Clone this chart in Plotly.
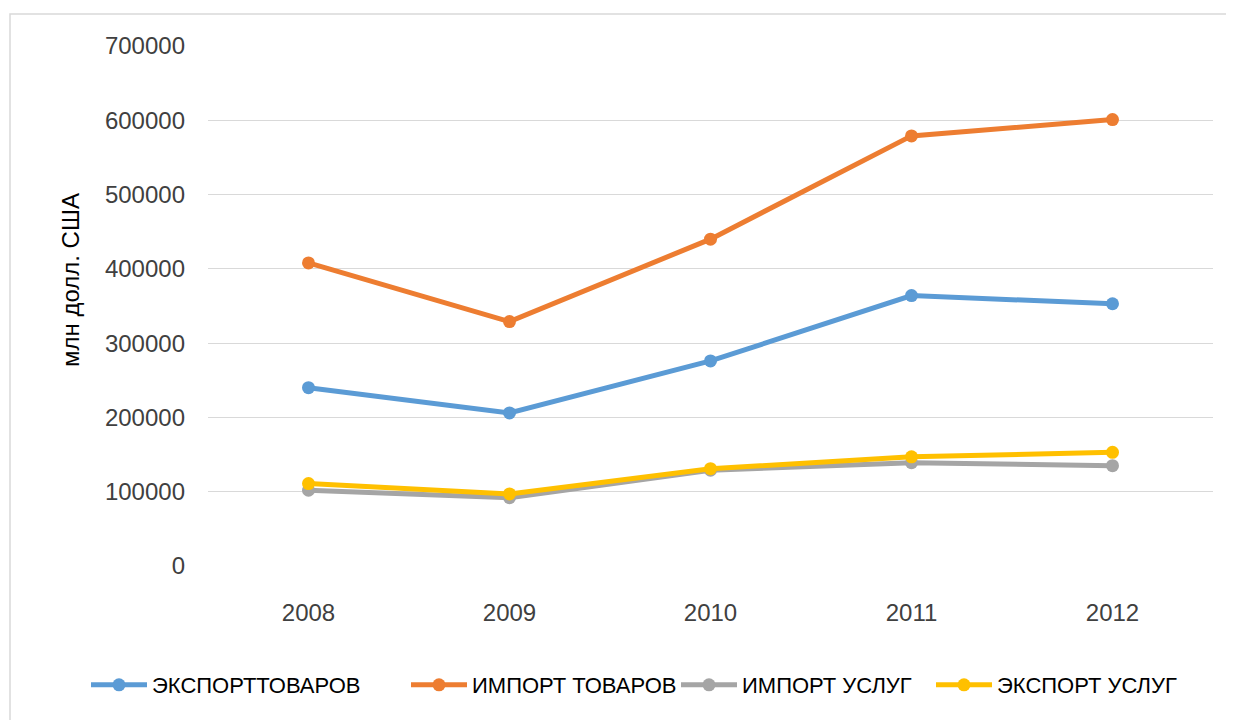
import plotly.graph_objects as go

years = ["2008", "2009", "2010", "2011", "2012"]
export_goods = [240000, 206000, 276000, 364000, 353000]
import_goods = [408000, 329000, 440000, 579000, 601000]
import_services = [102000, 92000, 129000, 139000, 135000]
export_services = [111000, 97000, 131000, 147000, 153000]

series = [
    ("ЭКСПОРТТОВАРОВ", export_goods, "#5b9bd5"),
    ("ИМПОРТ ТОВАРОВ", import_goods, "#ed7d31"),
    ("ИМПОРТ УСЛУГ", import_services, "#a5a5a5"),
    ("ЭКСПОРТ УСЛУГ", export_services, "#ffc000"),
]
legend_px = [86, 406, 676, 931]  # screen x of each legend entry
y_title = "млн долл. США"

# the page body has an 8px margin; compensate so the screen layout matches
OFF = 8
W, H = 1234 - OFF, 720 - OFF
L, R, T, B = 208 - OFF, 21, 46 - OFF, 154
pw, ph = W - L - R, H - T - B


def fx(px):
    return (px - OFF - L) / pw


def fy(py):
    return (T + ph - (py - OFF)) / ph


fig = go.Figure()
legend_names = ["legend", "legend2", "legend3", "legend4"]
for (name, vals, color), lg in zip(series, legend_names):
    fig.add_trace(go.Scatter(
        x=years, y=vals, name=name, mode="lines+markers",
        line=dict(color=color, width=5),
        marker=dict(color=color, size=13, symbol="circle"),
        legend=lg,
    ))

layout_legends = {}
for lg, px in zip(legend_names, legend_px):
    layout_legends[lg] = dict(
        orientation="h", x=fx(px), xanchor="left", y=fy(685), yanchor="middle",
        font=dict(size=22, color="#000000"), itemwidth=56,
        bgcolor="rgba(0,0,0,0)",
    )

fig.update_layout(
    width=W, height=H,
    margin=dict(l=L, r=R, t=T, b=B),
    paper_bgcolor="white", plot_bgcolor="white",
    font=dict(family="Liberation Sans, Arial, sans-serif", color="#404040", size=20),
    showlegend=True,
    xaxis=dict(type="category", range=[-0.5, 4.5], showgrid=False, showline=False,
               zeroline=False, ticks="", tickfont=dict(size=24, color="#404040"),
               ticklabelstandoff=30),
    yaxis=dict(range=[0, 700000], dtick=100000, showgrid=True, gridcolor="#d9d9d9",
               gridwidth=1, zeroline=False, showline=False, tickformat="d",
               tickfont=dict(size=24, color="#404040"), ticklabelstandoff=22),
    **layout_legends,
)

fig.add_annotation(text=y_title, xref="paper", yref="paper",
                   x=fx(70), y=fy(280), xanchor="center", yanchor="middle",
                   textangle=-90, showarrow=False,
                   font=dict(size=24, color="#000000"))

# chart-area border
fig.add_shape(type="rect", xref="paper", yref="paper",
              x0=fx(10), x1=fx(1229), y0=fy(740), y1=fy(14),
              line=dict(color="#d9d9d9", width=1.5), fillcolor="rgba(0,0,0,0)",
              layer="below")

fig.write_html("out.html")
